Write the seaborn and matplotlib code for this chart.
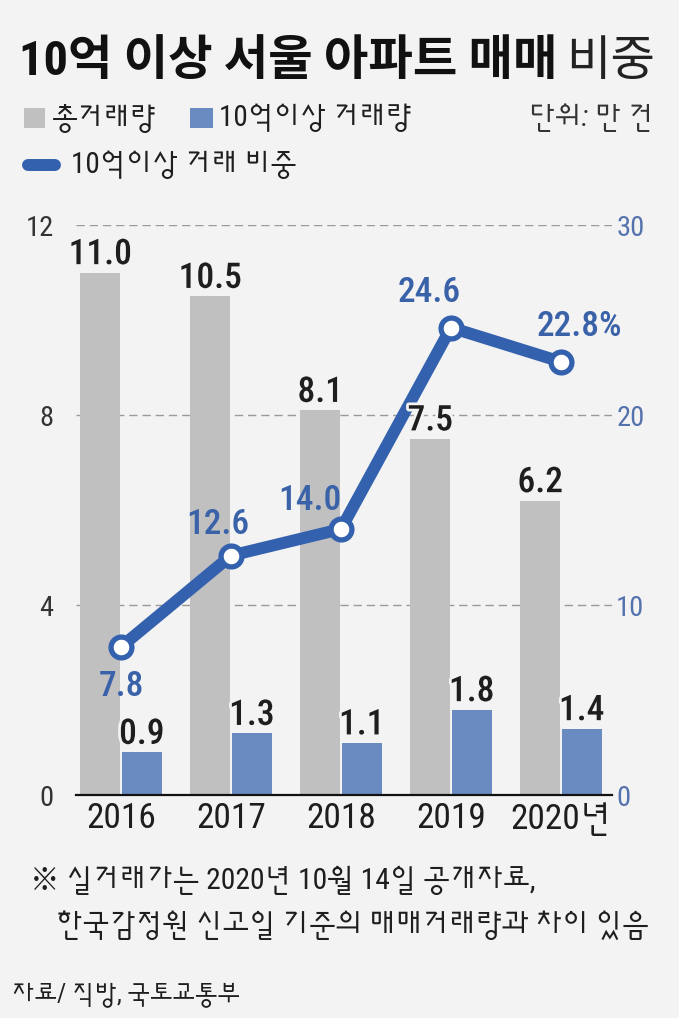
import numpy as np
import pandas as pd
import matplotlib
matplotlib.use("Agg")
import matplotlib.pyplot as plt
import matplotlib.patheffects as pe
from matplotlib.patches import Rectangle
from matplotlib.lines import Line2D
from matplotlib import font_manager as fm
import seaborn as sns

# ---------------- data ----------------
years = ["2016", "2017", "2018", "2019", "2020"]
year_labels = ["2016", "2017", "2018", "2019", "2020년"]
total_volume = [11.0, 10.5, 8.1, 7.5, 6.2]          # 총거래량 (만 건)
over_1b_volume = [0.9, 1.3, 1.1, 1.8, 1.4]          # 10억이상 거래량 (만 건)
over_1b_share = [7.8, 12.6, 14.0, 24.6, 22.8]       # 10억이상 거래 비중 (%)
share_labels = ["7.8", "12.6", "14.0", "24.6", "22.8%"]
series_names = ["총거래량", "10억이상 거래량"]
line_name = "10억이상 거래 비중"
left_ticks = [0, 4, 8, 12]
right_ticks = [0, 10, 20, 30]

title_bold = "10억 이상 서울 아파트 매매"
title_light = "비중"
unit_text = "단위: 만 건"
note_lines = ["※ 실거래가는 2020년 10월 14일 공개자료,",
              "한국감정원 신고일 기준의 매매거래량과 차이 있음"]
source_text = "자료/ 직방, 국토교통부"

# ---------------- style ----------------
BG = "#f3f3f3"
GRAY = "#c0c0c0"
BLUEBAR = "#6a8bc1"
LINE = "#3361ad"
LABEL_BLUE = "#3a62a9"
TICK_BLUE = "#5472ad"
DARK = "#1e1e1e"

# label offsets for the share line (points): (dx, dy)
share_offsets = [(0, -35.6), (-9.4, 15.5), (-22.3, 14.0), (-15.8, 18.4), (13.0, 18.4)]

sns.set_theme(style="white")
names = {f.name for f in fm.fontManager.ttflist}
def pick(*cands):
    for c in cands:
        if c in names:
            return c
    return "DejaVu Sans"
NUM = pick("Roboto Condensed", "Archivo Narrow", "PT Sans Narrow", "Liberation Sans")
KOR = pick("Sunflower", "Noto Sans CJK KR")
FAM = [NUM, KOR, "Noto Sans CJK KR", "DejaVu Sans"]
TITLE_FAM = [NUM, "Noto Sans CJK KR", "DejaVu Sans"]
plt.rcParams["font.family"] = FAM
plt.rcParams["axes.unicode_minus"] = False

W, H = 679, 1018
fig = plt.figure(figsize=(W / 100, H / 100), dpi=100, facecolor=BG)

ax = fig.add_axes([76 / W, 1 - 795 / H, (612 - 76) / W, (795 - 225) / H])
ax.set_facecolor(BG)

df = pd.DataFrame({
    "year": years * 2,
    "value": total_volume + over_1b_volume,
    "series": [series_names[0]] * len(years) + [series_names[1]] * len(years),
})
sns.barplot(data=df, x="year", y="value", hue="series", order=years,
            hue_order=series_names, palette=[GRAY, BLUEBAR], saturation=1,
            width=0.755, gap=0.04, linewidth=0, legend=False, ax=ax, zorder=2)

ax2 = ax.twinx()
sns.pointplot(x=years, y=over_1b_share, order=years, ax=ax2, color=LINE,
              markers="o", errorbar=None, linewidth=8.6,
              markersize=15, markeredgewidth=3.8)
for ln in ax2.lines:
    ln.set_markerfacecolor("white")
    ln.set_markeredgecolor(LINE)
    ln.set_solid_joinstyle("round")
    ln.set_solid_capstyle("round")

ax3 = ax.twinx()
ax3.set_axis_off()

ax.set_ylim(0, 12)
ax2.set_ylim(0, 30)
ax3.set_ylim(0, 12)
ax.set_xlim(-0.41, 4.464)

# bar value labels (above line)
for p in ax.patches:
    h = p.get_height()
    x = p.get_x() + p.get_width() / 2
    ax3.annotate(f"{h:.1f}", (x, h), xytext=(0, 6), textcoords="offset points",
                 ha="center", va="baseline", fontsize=25.5, fontweight="medium",
                 color=DARK,
                 path_effects=[pe.withStroke(linewidth=4, foreground=BG)])

# share labels
for i, (v, lab) in enumerate(zip(over_1b_share, share_labels)):
    dx, dy = share_offsets[i]
    ax2.annotate(lab, (i, v), xytext=(dx, dy), textcoords="offset points",
                 ha="center", va="baseline", fontsize=25.5, fontweight="medium",
                 color=LABEL_BLUE)

# axes styling
ax.set_xlabel("")
ax.set_ylabel("")
ax2.set_xlabel("")
ax2.set_ylabel("")
ax.set_yticks(left_ticks)
ax.set_yticklabels([str(t) for t in left_ticks])
ax2.set_yticks(right_ticks)
ax2.set_yticklabels([str(t) for t in right_ticks])
ax.set_xticks(range(len(years)))
ax.set_xticklabels(year_labels)
ax.tick_params(axis="y", length=0, pad=16, labelsize=20.5, labelcolor="#333333")
ax2.tick_params(axis="y", length=0, pad=3, labelsize=20.5, labelcolor=TICK_BLUE)
ax.tick_params(axis="x", length=0, pad=5, labelsize=25.5, labelcolor=DARK)
ax.yaxis.grid(True, linestyle=(0, (6, 3.5)), color="#9a9a9a", linewidth=1, zorder=0)
ax.set_axisbelow(True)
for s in ["top", "right", "left"]:
    ax.spines[s].set_visible(False)
ax.spines["bottom"].set_color("#111111")
ax.spines["bottom"].set_linewidth(1.6)
for s in ax2.spines.values():
    s.set_visible(False)

# ---------------- title ----------------
t = fig.text(19 / W, 1 - 75 / H, title_bold, fontsize=34.8, fontweight="bold",
             family=TITLE_FAM, color="#111111", va="baseline", ha="left")
ax.annotate(title_light, xy=(1, 0), xycoords=t, xytext=(6, 0),
            textcoords="offset points", fontsize=34.8, color="#222222",
            family=TITLE_FAM, fontweight="light", va="bottom", ha="left",
            annotation_clip=False)

# ---------------- legend ----------------
fig.add_artist(Rectangle((24 / W, 1 - 128 / H), 21 / W, 20 / H,
                         transform=fig.transFigure, color=GRAY, lw=0))
fig.text(52 / W, 1 - 118 / H, series_names[0], fontsize=21, color=DARK,
         va="center", ha="left")
fig.add_artist(Rectangle((190 / W, 1 - 128 / H), 23 / W, 20 / H,
                         transform=fig.transFigure, color=BLUEBAR, lw=0))
fig.text(219 / W, 1 - 118 / H, series_names[1], fontsize=21, color=DARK,
         va="center", ha="left")
fig.text(654 / W, 1 - 118 / H, unit_text, fontsize=21, color="#333333",
         va="center", ha="right", style="italic")
fig.add_artist(Line2D([28 / W, 55 / W], [1 - 165 / H, 1 - 165 / H],
                      transform=fig.transFigure, color=LINE, lw=8.6,
                      solid_capstyle="round"))
fig.text(71 / W, 1 - 165 / H, line_name, fontsize=21, color=DARK,
         va="center", ha="left")

# ---------------- notes ----------------
fig.text(30 / W, 1 - 880 / H, note_lines[0], fontsize=21.3, color=DARK,
         va="center", ha="left")
fig.text(56 / W, 1 - 925 / H, note_lines[1], fontsize=21.3, color=DARK,
         va="center", ha="left")
fig.text(12 / W, 1 - 995 / H, source_text, fontsize=18, color=DARK,
         va="center", ha="left")

fig.savefig("out.png", dpi=100, facecolor=BG)
